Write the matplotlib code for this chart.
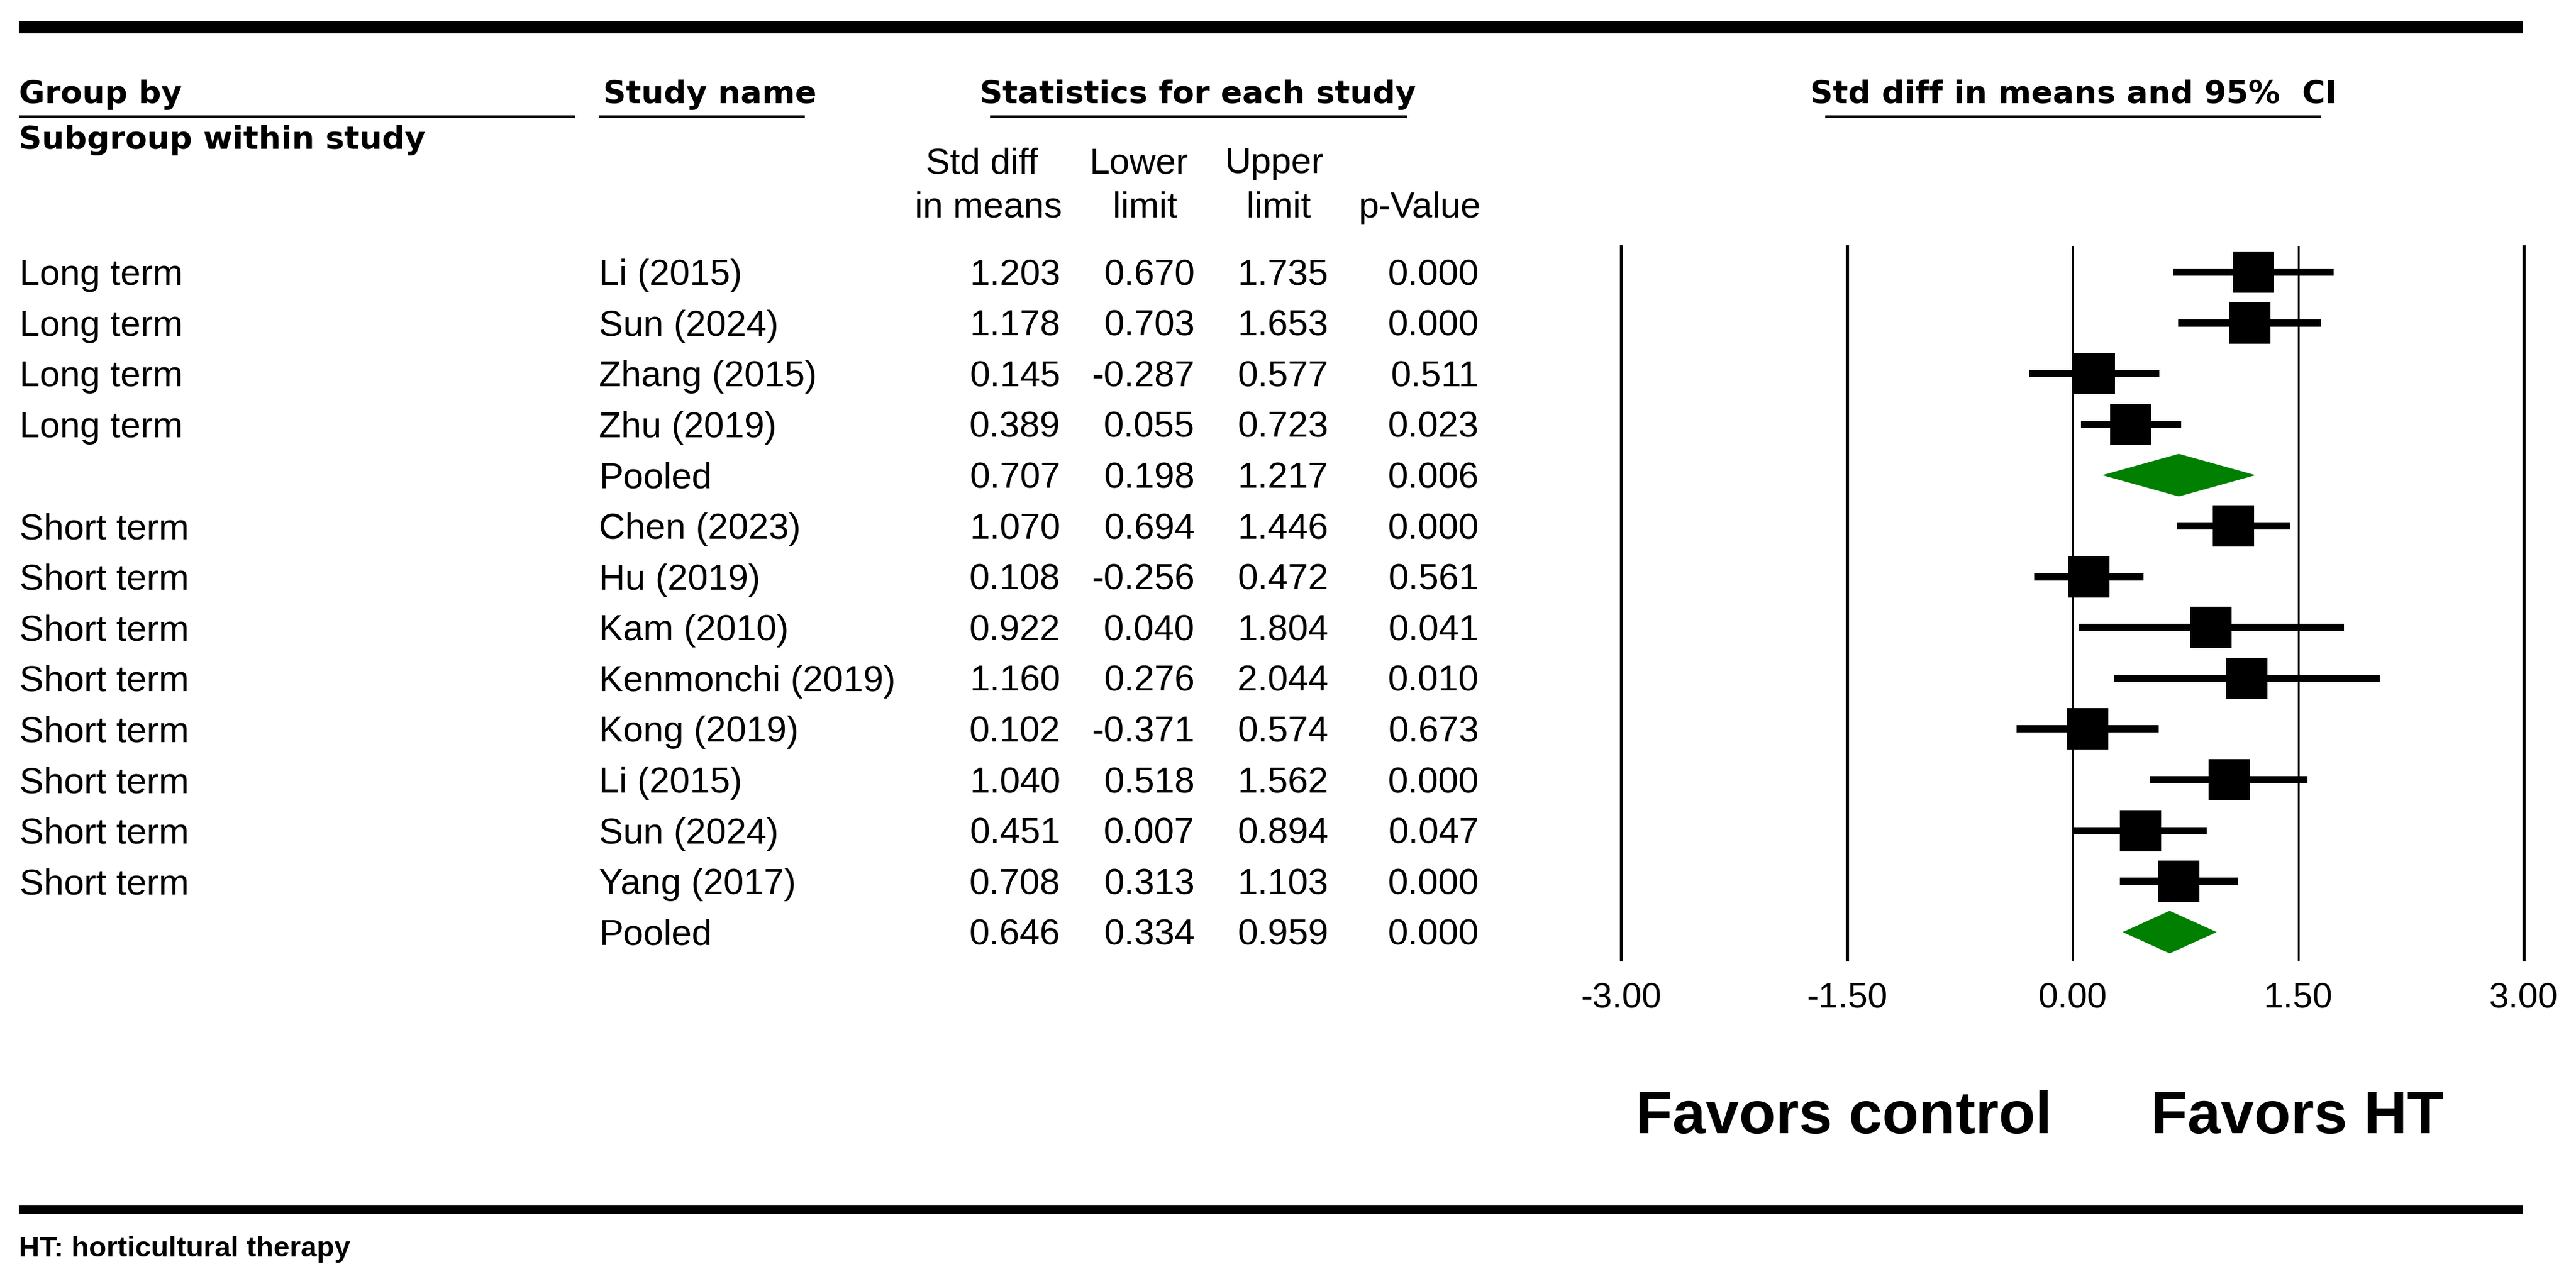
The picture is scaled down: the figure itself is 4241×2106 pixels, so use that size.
import matplotlib.pyplot as plt
from matplotlib.patches import Polygon

# data
groups = ["Long term", "Long term", "Long term", "Long term", "",
          "Short term", "Short term", "Short term", "Short term",
          "Short term", "Short term", "Short term", "Short term", ""]
studies = ["Li (2015)", "Sun (2024)", "Zhang (2015)", "Zhu (2019)", "Pooled",
           "Chen (2023)", "Hu (2019)", "Kam (2010)", "Kenmonchi (2019)",
           "Kong (2019)", "Li (2015)", "Sun (2024)", "Yang (2017)", "Pooled"]
smd = [1.203, 1.178, 0.145, 0.389, 0.707,
       1.070, 0.108, 0.922, 1.160, 0.102, 1.040, 0.451, 0.708, 0.646]
lower = [0.670, 0.703, -0.287, 0.055, 0.198,
         0.694, -0.256, 0.040, 0.276, -0.371, 0.518, 0.007, 0.313, 0.334]
upper = [1.735, 1.653, 0.577, 0.723, 1.217,
         1.446, 0.472, 1.804, 2.044, 0.574, 1.562, 0.894, 1.103, 0.959]
pvals = [0.000, 0.000, 0.511, 0.023, 0.006,
         0.000, 0.561, 0.041, 0.010, 0.673, 0.000, 0.047, 0.000, 0.000]
xticks = [-3.0, -1.5, 0.0, 1.5, 3.0]

W, H = 4241, 2106
body = "Liberation Sans"
head = "DejaVu Sans"
fs = 43

fig = plt.figure(figsize=(W / 100, H / 100), dpi=100)
ax = fig.add_axes([0, 0, 1, 1])
ax.set_xlim(0, W)
ax.set_ylim(H, 0)
ax.axis("off")

# rules
ax.plot([31, 4153], [45, 45], color="k", lw=14.4, solid_capstyle="butt")
ax.plot([31, 4153], [1992, 1992], color="k", lw=10, solid_capstyle="butt")
for x0, x1 in [(31, 947), (986, 1325), (1630, 2317), (3005, 3821)]:
    ax.plot([x0, x1], [192, 192], color="k", lw=3, solid_capstyle="butt")

# headers
ax.text(31, 170, "Group by", fontsize=37.5, fontweight="bold", family=head, va="baseline")
ax.text(31, 245, "Subgroup within study", fontsize=37.5, fontweight="bold", family=head, va="baseline")
ax.text(993, 170, "Study name", fontsize=37.5, fontweight="bold", family=head, va="baseline")
ax.text(1972, 170, "Statistics for each study", fontsize=37.5, fontweight="bold", family=head,
        va="baseline", ha="center")
ax.text(3414, 170, "Std diff in means and 95%  CI", fontsize=37.5, fontweight="bold", family=head,
        va="baseline", ha="center")

col_heads = [(1617, "Std diff", 1627, "in means"), (1875, "Lower", 1885, "limit"),
             (2098, "Upper", 2105, "limit"), (None, "", 2337, "p-Value")]
for xa, t1, xb, t2 in col_heads:
    if xa is not None:
        ax.text(xa, 285, t1, fontsize=fs, family=body, ha="center", va="baseline")
    ax.text(xb, 358, t2, fontsize=fs, family=body, ha="center", va="baseline")

# table rows
row0, pitch = 448, 83.6
num_x = [1746, 1967, 2187, 2435]
for i in range(len(studies)):
    yb = row0 + i * pitch + 21
    ax.text(32, yb, groups[i], fontsize=fs, family=body, va="baseline")
    ax.text(986, yb, studies[i], fontsize=fs, family=body, va="baseline")
    for xr, v in zip(num_x, [smd[i], lower[i], upper[i], pvals[i]]):
        ax.text(xr, yb, f"{v:.3f}", fontsize=fs, family=body, va="baseline", ha="right")

# forest panel
fx0, fx1, fy0, fy1 = 2669, 4155, 406, 1580
axf = fig.add_axes([fx0 / W, 1 - fy1 / H, (fx1 - fx0) / W, (fy1 - fy0) / H])
axf.set_xlim(-3, 3)
axf.set_ylim((fy1 - row0) / pitch, -(row0 - fy0) / pitch)
axf.patch.set_alpha(0)
for s in axf.spines.values():
    s.set_visible(False)
axf.set_yticks([])
axf.set_xticks(xticks)
axf.set_xticklabels([f"{t:.2f}" for t in xticks], fontsize=42, family=body)
axf.tick_params(axis="x", length=0, pad=27)

for t in xticks:
    lw = 2.2 if t in (0.0, 1.5) else 3.8
    axf.axvline(t, color="k", lw=lw, clip_on=False, zorder=1)

for i in range(len(studies)):
    if studies[i] == "Pooled":
        d = Polygon([(lower[i], i), (smd[i], i - 0.42), (upper[i], i), (smd[i], i + 0.42)],
                    closed=True, facecolor="#007f00", edgecolor="none", zorder=3)
        axf.add_patch(d)
    else:
        axf.plot([lower[i], upper[i]], [i, i], color="k", lw=8.6, solid_capstyle="butt", zorder=2)
        axf.plot(smd[i], i, marker="s", ms=49, color="k", mew=0, zorder=3)

ax.text(3378, 1866, "Favors control", fontsize=71, fontweight="bold", family=body,
        ha="right", va="baseline")
ax.text(3541, 1866, "Favors HT", fontsize=71, fontweight="bold", family=body,
        ha="left", va="baseline")

ax.text(31, 2069, "HT: horticultural therapy", fontsize=34, fontweight="bold", family=body,
        va="baseline")

fig.savefig("out.png", dpi=100)
